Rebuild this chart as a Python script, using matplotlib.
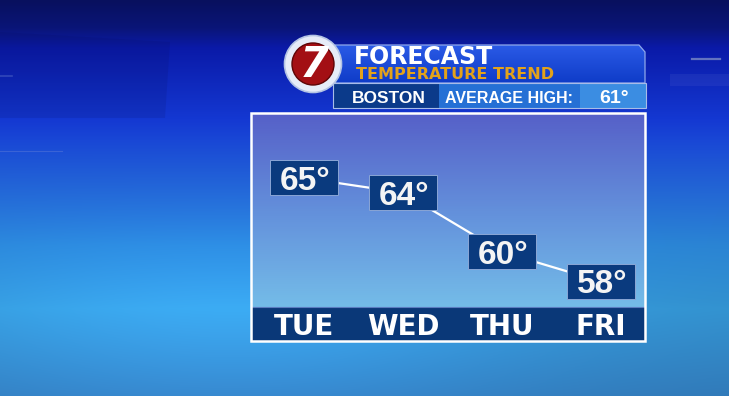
import matplotlib

matplotlib.use("Agg")

import matplotlib.pyplot as plt
import matplotlib.transforms as mtransforms
import numpy as np
from matplotlib.patches import Circle, Polygon, Rectangle


DAYS = ["TUE", "WED", "THU", "FRI"]
HIGHS = [65, 64, 60, 58]
CITY = "BOSTON"
AVG_LABEL = "AVERAGE HIGH:"
AVG_HIGH = 61
TITLE = "FORECAST"
SUBTITLE = "TEMPERATURE TREND"

W, H = 729, 396


def hex2rgb(h):
    return np.array([int(h[i:i + 2], 16) for i in (1, 3, 5)]) / 255.0


def vgrad(stops, n):
    pos = np.array([s[0] for s in stops])
    cols = np.array([hex2rgb(s[1]) for s in stops])
    t = np.linspace(0, 1, n)
    return np.stack([np.interp(t, pos, cols[:, k]) for k in range(3)], axis=-1)


def background():
    col = vgrad([(0.0, "#08105e"), (0.07, "#0a1578"), (0.12, "#0a1aa8"),
                 (0.30, "#1438d2"), (0.45, "#2262dc"), (0.62, "#2f92ea"),
                 (0.78, "#3cacf4"), (1.0, "#3a90da")], H)
    img = np.repeat(col[:, None, :], W, axis=1)
    xx, yy = np.meshgrid(np.arange(W), np.arange(H))
    glow = np.exp(-(((xx - 230) / 330.0) ** 2 + ((yy - 310) / 150.0) ** 2))
    weight = np.clip((yy - 140) / 160.0, 0, 1)
    shade = 1 - weight * (1 - (0.84 + 0.16 * glow))
    return np.clip(img * shade[..., None], 0, 1)


def main() -> None:
    fig = plt.figure(figsize=(W / 100, H / 100), dpi=100)

    # fondo y cabecera en coordenadas de pixel
    bg = fig.add_axes([0, 0, 1, 1])
    bg.imshow(background(), extent=(0, W, H, 0), aspect="auto", zorder=0)
    bg.add_patch(Polygon([(0, 32), (170, 42), (165, 118), (0, 118)],
                         fc="#050a50", ec="none", alpha=0.12, zorder=1))
    bg.plot([0, 62], [151, 151], color="#5a78d8", lw=0.8, alpha=0.5, zorder=1)
    bg.plot([0, 12], [76, 76], color="#6a80d0", lw=1.2, alpha=0.4, zorder=1)
    bg.add_patch(Rectangle((670, 74), 59, 12, fc="white", alpha=0.05, zorder=1))
    bg.plot([692, 720], [59, 59], color="#8a98c8", lw=1.6, alpha=0.7, zorder=1)

    row1 = Polygon([(335, 45), (639, 45), (645, 52), (645, 83), (335, 83)],
                   closed=True, fc="none", ec="#8fa8ea", lw=0.9, zorder=3)
    bg.add_patch(row1)
    g1 = vgrad([(0, "#2a5ae6"), (1, "#0f3cc8")], 40)[:, None, :].repeat(10, axis=1)
    im1 = bg.imshow(g1, extent=(335, 645, 83, 45), aspect="auto", zorder=2)
    im1.set_clip_path(row1)

    bg.add_patch(Rectangle((333, 83), 106, 25, fc="#0b3a8a", ec="none", zorder=2))
    bg.add_patch(Rectangle((439, 83), 141, 25, fc="#2570d5", ec="none", zorder=2))
    bg.add_patch(Rectangle((580, 83), 66, 25, fc="#3b8de2", ec="none", zorder=2))
    bg.add_patch(Rectangle((333, 83), 313, 25, fc="none", ec="#a8bce8", lw=0.8, zorder=3))

    bg.text(354, 63.5, TITLE, color="white", fontsize=17, weight="heavy",
            family="DejaVu Sans", va="baseline", zorder=4)
    bg.text(356, 79, SUBTITLE, color="#e3a21a", fontsize=11.5, weight="bold",
            family="DejaVu Sans", va="baseline", zorder=4)
    bg.text(389, 103, CITY, color="white", fontsize=12.5, weight="bold",
            family="Liberation Sans", ha="center", va="baseline", zorder=4)
    bg.text(509, 103, AVG_LABEL, color="white", fontsize=11.5, weight="bold",
            family="Liberation Sans", ha="center", va="baseline", zorder=4)
    bg.text(614, 103, f"{AVG_HIGH}°", color="white", fontsize=14, weight="bold",
            family="Liberation Sans", ha="center", va="baseline", zorder=4)

    # logo
    bg.add_patch(Circle((313, 64), 28.5, fc="#e6ecf8", ec="#b4c4e4", lw=1.2, zorder=5))
    bg.add_patch(Circle((313, 64), 21, fc="#a30f14", ec="#5e0406", lw=1.0, zorder=6))
    bg.text(314, 65, "7", color="white", fontsize=30, weight="bold", style="italic",
            family="DejaVu Sans", ha="center", va="center", zorder=7)

    bg.set_xlim(0, W)
    bg.set_ylim(H, 0)
    bg.axis("off")

    # panel del grafico
    ax = fig.add_axes([251 / W, 1 - 341 / H, 394 / W, 228 / H])
    xlim = (-0.535, 3.444)
    ylim = (53.98, 69.39)
    pg = vgrad([(0, "#5660c8"), (0.45, "#6492dc"), (0.85, "#74bce8"), (1, "#74bce8")], 100)
    ax.imshow(pg[:, None, :].repeat(10, axis=1), extent=(*xlim, *ylim),
              aspect="auto", zorder=0)
    ax.add_patch(Rectangle((0, 0), 1, 34 / 228, transform=ax.transAxes,
                           fc="#0a3878", ec="none", zorder=1))
    ax.plot([0, 1], [34 / 228, 34 / 228], transform=ax.transAxes,
            color="#5a7cc0", lw=0.8, zorder=1)

    x = np.arange(len(DAYS))
    ax.plot(x, HIGHS, color="white", lw=1.6, zorder=2)
    for i, t in zip(x, HIGHS):
        ax.add_patch(Rectangle((i - 0.343, t - 1.18), 0.687, 2.37,
                               fc="#0a3a7e", ec="#8aa6d6", lw=0.7, zorder=3))
        ax.annotate(f"{t}°", (i, t), xytext=(1, -8.6), textcoords="offset points",
                    ha="center", va="baseline", fontsize=24, weight="bold",
                    family="Liberation Sans", color="#f4f4f4", zorder=4)

    trans = mtransforms.blended_transform_factory(ax.transData, ax.transAxes)
    for i, d in zip(x, DAYS):
        ax.text(i, 0.0285, d, transform=trans, ha="center", va="baseline",
                fontsize=20, weight="bold", family="DejaVu Sans",
                color="white", zorder=4)

    ax.add_patch(Rectangle((0, 0), 1, 1, transform=ax.transAxes, fill=False,
                           ec="white", lw=1.8, clip_on=False, zorder=10))
    ax.set_xlim(*xlim)
    ax.set_ylim(*ylim)
    ax.axis("off")

    fig.savefig("out.png", dpi=100)
    plt.close(fig)


if __name__ == "__main__":
    main()
